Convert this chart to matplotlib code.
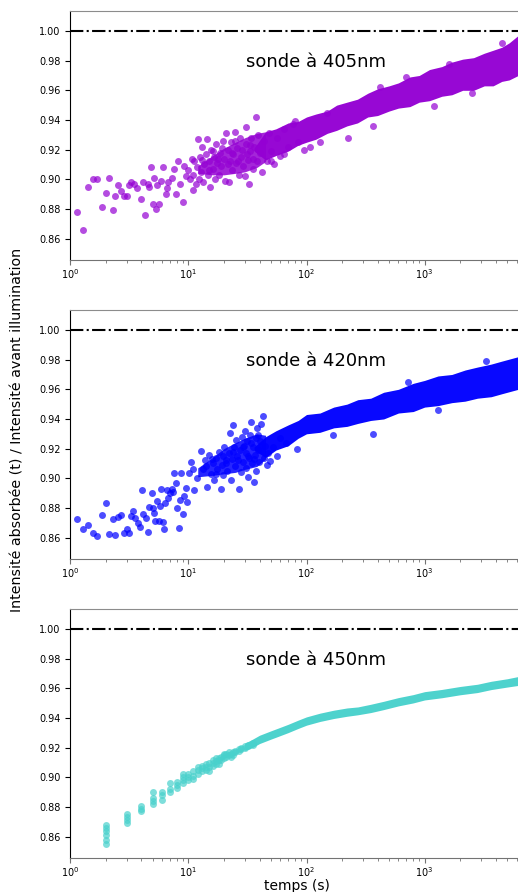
import matplotlib
matplotlib.use('Agg')
from matplotlib import pyplot as plt

# ---- sonde 405 nm : points isoles (temps en s, rapport d'intensite)
t405 = [1.13, 1.27, 1.41, 1.56, 1.69, 1.84, 2.0, 2.14, 2.28, 2.41, 2.55, 2.70, 2.85, 3.0,
        3.12, 3.28, 3.48, 3.67, 4.0, 4.15, 4.29, 4.52, 4.61, 4.85, 5.0, 5.15, 5.28, 5.45,
        5.63, 5.9, 6.1, 6.43, 6.6, 6.75, 7.2, 7.55, 7.9, 8.2, 8.5, 9.0, 9.2, 9.5, 10.0,
        10.3, 10.7, 10.9,
        11.0, 11.2, 11.5, 11.8, 12.0, 12.2, 12.5, 12.8, 13.0, 13.3, 13.6, 14.0, 14.3, 14.6,
        15.0, 15.3, 15.6, 16.0, 16.4, 16.8, 17.2, 17.6, 18.0, 18.5, 19.0, 19.5, 20.0, 20.5,
        21.0, 21.5, 22.0, 22.5, 23.0, 23.5, 24.0, 24.8, 25.5, 26.0, 27.0, 27.5, 28.0, 29.0,
        30.0, 30.5, 31.0, 32.0, 32.4, 33.0, 34.0, 35.0, 36.0, 37.3, 38.0, 39.0, 40.0, 42.0,
        44.0, 46.0, 48.0, 50.0, 53.0, 56.0, 60.0, 65.0, 70.0, 77.0, 85.0, 95.0,
        50, 65, 107, 129, 225, 366, 420, 1200, 1600, 4530, 150, 80, 700, 2500,
        13.0, 14.8, 16.2, 17.8, 19.2, 21.8, 23.2, 25.0, 26.5, 28.5, 31.5, 33.5, 35.5]
v405 = [0.878, 0.866, 0.895, 0.900, 0.900, 0.881, 0.891, 0.901, 0.879, 0.889, 0.896, 0.892,
        0.889, 0.889, 0.896, 0.898, 0.897, 0.894, 0.887, 0.898, 0.876, 0.897, 0.895, 0.908,
        0.883, 0.901, 0.880, 0.896, 0.883, 0.899, 0.908, 0.890, 0.894, 0.898, 0.901, 0.907,
        0.890, 0.912, 0.897, 0.885, 0.909, 0.902, 0.906, 0.900, 0.914, 0.893,
        0.903, 0.912, 0.897, 0.908, 0.927, 0.900, 0.915, 0.905, 0.922, 0.898, 0.910, 0.917,
        0.927, 0.903, 0.912, 0.895, 0.920, 0.907, 0.915, 0.900, 0.924, 0.911, 0.903, 0.918,
        0.909, 0.926, 0.914, 0.899, 0.931, 0.920, 0.898, 0.912, 0.925, 0.906, 0.917, 0.932,
        0.911, 0.921, 0.903, 0.928, 0.915, 0.909, 0.902, 0.924, 0.935, 0.913, 0.897, 0.919,
        0.928, 0.907, 0.922, 0.942, 0.912, 0.930, 0.918, 0.905, 0.926, 0.912, 0.931, 0.919,
        0.910, 0.928, 0.916, 0.934, 0.922, 0.937, 0.925, 0.920,
        0.912, 0.917, 0.922, 0.925, 0.928, 0.936, 0.9625, 0.9495, 0.978, 0.9917, 0.945,
        0.939, 0.969, 0.958,
        0.913, 0.906, 0.919, 0.914, 0.921, 0.910, 0.918, 0.926, 0.912, 0.920, 0.917, 0.923,
        0.914]
# nuage intermediaire 405 nm
tm405 = [12, 16, 20, 25, 30, 38, 45]
lm405 = [0.904, 0.903, 0.903, 0.904, 0.905, 0.908, 0.912]
hm405 = [0.909, 0.916, 0.921, 0.925, 0.928, 0.931, 0.932]
# bande dense 405 nm (bords bas / haut du nuage)
tb405 = [36, 45, 55, 70, 85, 100, 120, 150, 180, 220, 270, 330, 400, 500, 600, 750, 900,
         1100, 1400, 1700, 2100, 2600, 3200, 3800, 4500, 5200, 6200]
lo405 = [0.919, 0.913, 0.916, 0.919, 0.923, 0.925, 0.927, 0.931, 0.933, 0.936, 0.938,
         0.942, 0.943, 0.946, 0.948, 0.949, 0.952, 0.953, 0.956, 0.957, 0.960, 0.960, 0.963,
         0.963, 0.966, 0.967, 0.970]
hi405 = [0.921, 0.932, 0.934, 0.938, 0.939, 0.942, 0.944, 0.946, 0.950, 0.952, 0.954,
         0.958, 0.961, 0.963, 0.965, 0.969, 0.970, 0.974, 0.976, 0.979, 0.981, 0.982, 0.985,
         0.987, 0.989, 0.992, 0.997]

# ---- sonde 420 nm
t420 = [1.13, 1.27, 1.41, 1.55, 1.69, 1.84, 2.0, 2.14, 2.28, 2.41, 2.55, 2.69, 2.85, 3.0,
        3.12, 3.25, 3.42, 3.55, 3.72, 3.89, 4.02, 4.15, 4.35, 4.55, 4.66, 4.89, 4.99, 5.1,
        5.25, 5.45, 5.6, 5.8, 5.9, 6.07, 6.2, 6.37, 6.54, 6.75, 6.97, 7.26, 7.45, 7.6, 7.8,
        8.05, 8.35, 8.5, 8.7, 9.0, 9.2, 9.45, 9.8, 10.1, 10.5, 10.85, 11.2, 11.8,
        12.7, 13.2, 13.7, 14.3, 14.9, 15.5, 16, 16.5, 17, 17.5, 18, 18.8, 19.2, 19.8, 20.2,
        20.8, 21.3, 22, 22.5, 23, 23.5, 24, 24.5, 25, 25.5, 26, 26.7, 27.2, 27.8, 28.3, 29,
        29.5, 30, 30.5, 31, 31.5, 32, 32.6, 33.2, 34.2, 34.8, 35.3, 35.8, 36.5, 37, 37.7,
        38.3, 39, 39.6, 40.3, 41.3, 42.8, 43.5, 44.5, 46, 47, 49.2, 52, 56, 60,
        67.5, 83.6, 168, 366, 1300, 720, 3300,
        14.0, 15.8, 17.2, 19.5, 21.0, 23.8, 26.3, 28.8, 31.8, 34.0, 36.0, 38.8]
v420 = [0.8724, 0.866, 0.8686, 0.8632, 0.8614, 0.8753, 0.8834, 0.8623, 0.8724, 0.8616,
        0.8742, 0.8753, 0.8634, 0.8657, 0.8634, 0.8747, 0.8782, 0.8731, 0.8701, 0.8674,
        0.8922, 0.8758, 0.8735, 0.8636, 0.8805, 0.8904, 0.8798, 0.8765, 0.8715, 0.8846,
        0.8715, 0.8814, 0.8927, 0.8708, 0.8657, 0.8832, 0.8922, 0.8866, 0.8900, 0.8927,
        0.8907, 0.9037, 0.8971, 0.8798, 0.8663, 0.8855, 0.9037, 0.8760, 0.8880, 0.8934,
        0.8839, 0.9039, 0.9113, 0.9062, 0.8922, 0.9001,
        0.9187, 0.9064, 0.9125, 0.8944, 0.9154, 0.903, 0.910, 0.899, 0.914, 0.906, 0.918,
        0.8929, 0.909, 0.902, 0.921, 0.912, 0.905, 0.917, 0.9305, 0.899, 0.913, 0.936,
        0.921, 0.908, 0.926, 0.915, 0.8927, 0.919, 0.904, 0.928, 0.911, 0.922, 0.932, 0.907,
        0.917, 0.925, 0.901, 0.914, 0.929, 0.9379, 0.910, 0.921, 0.8978, 0.916, 0.927,
        0.905, 0.934, 0.919, 0.911, 0.925, 0.9368, 0.9417, 0.914, 0.922, 0.909, 0.917,
        0.9118, 0.921, 0.915, 0.927,
        0.9241, 0.9197, 0.9293, 0.9298, 0.946, 0.965, 0.9788,
        0.908, 0.913, 0.903, 0.915, 0.910, 0.918, 0.912, 0.921, 0.915, 0.924, 0.913, 0.929]
tm420 = [12, 16, 20, 25, 30, 38, 45]
lm420 = [0.901, 0.902, 0.903, 0.904, 0.906, 0.908, 0.913]
hm420 = [0.907, 0.914, 0.920, 0.924, 0.927, 0.930, 0.929]
tb420 = [36, 45, 55, 70, 85, 100, 130, 170, 220, 272, 350, 450, 600, 800, 1000, 1300, 1700,
         2200, 2800, 3660, 4500, 6200]
lo420 = [0.919, 0.914, 0.919, 0.922, 0.927, 0.930, 0.931, 0.934, 0.935, 0.937, 0.939,
         0.940, 0.944, 0.945, 0.948, 0.949, 0.951, 0.952, 0.954, 0.955, 0.957, 0.960]
hi420 = [0.921, 0.928, 0.932, 0.936, 0.939, 0.943, 0.944, 0.948, 0.950, 0.953, 0.954,
         0.958, 0.960, 0.964, 0.966, 0.969, 0.970, 0.973, 0.975, 0.977, 0.979, 0.982]

# ---- sonde 450 nm (mesures a la seconde)
t450 = [2, 2, 2, 2, 2, 2, 3, 3, 3, 3, 4, 4, 4, 5, 5, 5, 5, 6, 6, 6, 7, 7, 7, 8, 8, 8,
        9, 9, 9, 9, 10, 10, 10, 11, 11, 11, 12, 12, 12, 13, 13, 13, 14, 14, 14, 15, 15, 15,
        16, 16, 16, 17, 17, 17, 18, 18, 18, 19, 19, 20, 20, 20, 21, 21, 22, 22, 23, 23,
        24, 24, 25, 25, 27, 27, 28, 28, 30, 30, 32, 32, 35, 35]
v450 = [0.855, 0.858, 0.861, 0.864, 0.866, 0.868, 0.869, 0.871, 0.873, 0.875, 0.877, 0.879,
        0.881, 0.882, 0.884, 0.886, 0.890, 0.885, 0.888, 0.890, 0.890, 0.892, 0.896, 0.893,
        0.895, 0.897, 0.896, 0.898, 0.900, 0.902, 0.898, 0.900, 0.902, 0.899, 0.901, 0.904,
        0.902, 0.905, 0.907, 0.904, 0.906, 0.908, 0.905, 0.907, 0.909, 0.904, 0.907, 0.910,
        0.908, 0.910, 0.912, 0.909, 0.911, 0.913, 0.909, 0.912, 0.913, 0.912, 0.914, 0.913,
        0.915, 0.916, 0.914, 0.916, 0.915, 0.917, 0.914, 0.916, 0.915, 0.917, 0.917, 0.918,
        0.918, 0.919, 0.919, 0.920, 0.920, 0.921, 0.921, 0.922, 0.922, 0.923]
tm450 = []
lm450 = []
hm450 = []
tb450 = [30, 35, 40, 50, 57, 70, 85, 100, 130, 170, 220, 272, 350, 450, 600, 800, 1000,
         1400, 2000, 2800, 3660, 5000, 6200]
lo450 = [0.9180, 0.9202, 0.9228, 0.9258, 0.9275, 0.9302, 0.9330, 0.9352, 0.9377, 0.9397,
         0.9412, 0.9422, 0.9437, 0.9457, 0.9482, 0.9502, 0.9522, 0.9537, 0.9557, 0.9572,
         0.9592, 0.9609, 0.9620]
hi450 = [0.9230, 0.9258, 0.9284, 0.9314, 0.9331, 0.9358, 0.9386, 0.9408, 0.9433, 0.9453,
         0.9468, 0.9475, 0.9493, 0.9513, 0.9538, 0.9558, 0.9578, 0.9593, 0.9613, 0.9628,
         0.9648, 0.9665, 0.9680]

titles = ['sonde à 405nm', 'sonde à 420nm', 'sonde à 450nm']
colors = ['darkviolet', 'blue', 'mediumturquoise']


def plotPanel(ax, t, v, tm, lm, hm, tb, lo, hi, color, title):
    if tm:
        ax.fill_between(tm, lm, hm, color=color, alpha=0.85, lw=0)
    ax.fill_between(tb, lo, hi, color=color, alpha=0.97, lw=0)
    ax.scatter(t, v, s=25, color=color, alpha=0.7, lw=0)
    ax.axhline(1.0, color='k', ls='-.', lw=1.5)

    ax.set_xscale('log')
    ax.set_xlim(1, 6900)
    ax.set_ylim(0.8458, 1.0135)
    ax.set_yticks([0.86, 0.88, 0.90, 0.92, 0.94, 0.96, 0.98, 1.00])
    ax.tick_params(labelsize=7)
    ax.tick_params(axis='x', which='both', color='0.45', pad=2)
    ax.spines['top'].set_color('0.55')
    ax.spines['bottom'].set_color('0.45')
    ax.text(0.543, 0.794, title, transform=ax.transAxes, ha='center', va='center',
            fontsize=13)


fig = plt.figure(figsize=(5.18, 8.92), dpi=100)
left, width, height = 0.1357, 0.8753, 0.2788
bottoms = [0.7089, 0.3737, 0.0384]
data = [(t405, v405, tm405, lm405, hm405, tb405, lo405, hi405),
        (t420, v420, tm420, lm420, hm420, tb420, lo420, hi420),
        (t450, v450, tm450, lm450, hm450, tb450, lo450, hi450)]

axes = []
for i in range(3):
    ax = fig.add_axes([left, bottoms[i], width, height])
    plotPanel(ax, *data[i], colors[i], titles[i])
    axes.append(ax)

fig.text(18 / 518, 1 - 430 / 892, 'Intensité absorbée (t) / Intensité avant illumination',
         rotation=90, ha='center', va='center', fontsize=10.3)
axes[2].set_xlabel('temps (s)', fontsize=10, labelpad=0)

fig.savefig('out.png', dpi=100)
